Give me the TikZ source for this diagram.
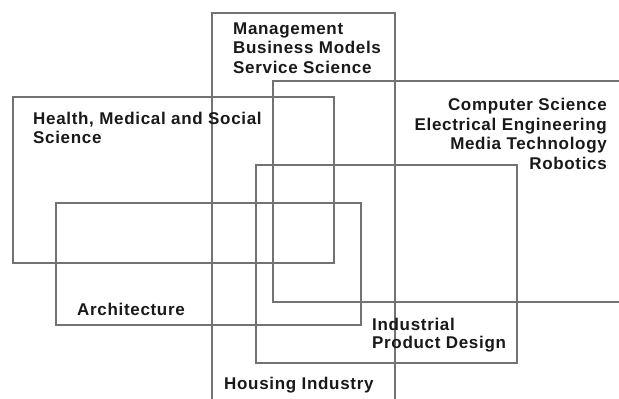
\documentclass[tikz,border=0pt]{standalone}
\usepackage{fontspec}
\newfontfamily\lblfont{Liberation Sans}[LetterSpace=4]
\begin{document}
\begin{tikzpicture}[x=1pt,y=-1pt,
  boxline/.style={draw=black!55, line width=2.8pt},
  lbl/.style={font=\lblfont\bfseries\fontsize{17}{19.5}\selectfont, text=black!90, inner sep=0pt},
]
\useasboundingbox (0,0) rectangle (619,399);
\fill[white] (0,0) rectangle (619,399);
\clip (0,0) rectangle (619,399);
% corner coordinates
\coordinate (mgA) at (212,13);  \coordinate (mgB) at (395,420);
\coordinate (hlA) at (13,97);   \coordinate (hlB) at (334,263);
\coordinate (csA) at (273,81);  \coordinate (csB) at (640,302);
\coordinate (arA) at (56,203);  \coordinate (arB) at (361,325);
\coordinate (inA) at (256,165); \coordinate (inB) at (517,363);
\draw[boxline] (mgA) rectangle (mgB);
\draw[boxline] (hlA) rectangle (hlB);
\draw[boxline] (csA) rectangle (csB);
\draw[boxline] (arA) rectangle (arB);
\draw[boxline] (inA) rectangle (inB);
% labels
\node[lbl, anchor=west, align=left] (mg) at (233,48) {Management\\Business Models\\Service Science};
\node[lbl, anchor=east, align=right] (cs) at (607,134) {Computer Science\\Electrical Engineering\\Media Technology\\Robotics};
\node[lbl, anchor=west, align=left, font=\lblfont\bfseries\fontsize{17}{18.5}\selectfont] (hl) at (33,128) {Health, Medical and Social\\Science};
\node[lbl, anchor=west] (ar) at (77,309) {Architecture};
\node[lbl, anchor=west, align=left, font=\lblfont\bfseries\fontsize{17}{18}\selectfont] (in) at (372,335) {Industrial\\Product Design};
\node[lbl, anchor=west] (ho) at (224,385) {Housing Industry};
\end{tikzpicture}
\end{document}
